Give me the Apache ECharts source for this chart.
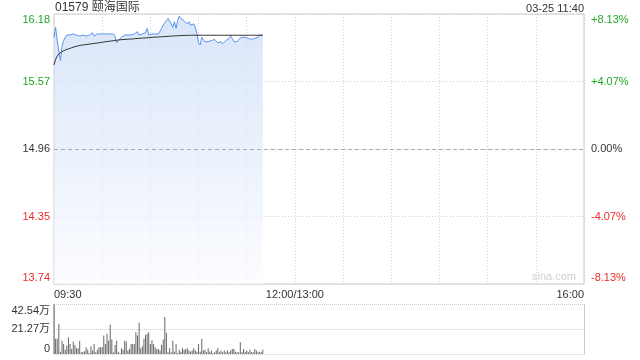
<!DOCTYPE html>
<html>
<head>
<meta charset="utf-8">
<script src="https://cdn.jsdelivr.net/npm/echarts@6/dist/echarts.min.js"></script>
<style>html,body{margin:0;padding:0;background:#fff;}#c{width:640px;height:360px;}</style>
</head>
<body>
<div id="c"></div>
<script>
const chartTitle = '01579 颐海国际';
const stamp = '03-25 11:40';
const prevClose = 14.96;
const priceTicks = ['13.74', '14.35', '14.96', '15.57', '16.18'];
const pctTicks = ['-8.13%', '-4.07%', '0.00%', '+4.07%', '+8.13%'];
const timeTicks = [0, 150, 330];
const timeLabels = ['09:30', '12:00/13:00', '16:00'];
const volTicks = ['0', '21.27万', '42.54万'];
const volMax = 42.54;

const price = [
  15.97, 16.06, 15.94, 15.84, 15.76, 15.89, 15.94, 15.97, 15.99, 15.98,
  15.99, 15.99, 16.00, 16.00, 15.99, 15.99, 15.98, 15.97, 15.99, 15.99,
  15.98, 15.97, 15.99, 16.00, 16.01, 15.98, 15.99, 16.00, 16.00, 16.00,
  16.00, 16.00, 16.00, 16.00, 16.00, 16.00, 16.00, 16.00, 15.98, 15.92,
  15.94, 15.95, 15.97, 15.97, 15.99, 15.98, 15.99, 15.99, 15.99, 16.00,
  16.00, 16.01, 16.02, 15.99, 15.98, 16.00, 15.99, 16.01, 16.05, 15.99,
  16.00, 16.00, 16.00, 16.00, 16.00, 16.00, 16.00, 16.05, 16.08, 16.09,
  16.12, 16.14, 16.14, 16.09, 16.06, 16.11, 16.05, 16.12, 16.16, 16.14,
  16.13, 16.12, 16.11, 16.09, 16.11, 16.08, 16.08, 16.09, 16.06, 16.00,
  15.92, 15.90, 15.97, 15.95, 15.93, 15.92, 15.93, 15.94, 15.94, 15.94,
  15.95, 15.96, 15.92, 15.92, 15.93, 15.91, 15.92, 15.94, 15.95, 15.96,
  15.98, 15.96, 15.93, 15.93, 15.93, 15.95, 15.96, 15.97, 15.96, 15.97,
  15.96, 15.96, 15.96, 15.95, 15.96, 15.96, 15.95, 15.97, 15.99, 15.99,
  15.99
];

const avg = [
  15.72, 15.77, 15.80, 15.82, 15.83, 15.84, 15.85, 15.855, 15.86, 15.865,
  15.87, 15.875, 15.88, 15.885, 15.89, 15.892, 15.895, 15.898, 15.90, 15.902,
  15.904, 15.906, 15.908, 15.91, 15.912, 15.914, 15.916, 15.918, 15.92, 15.922,
  15.925, 15.927, 15.929, 15.931, 15.933, 15.935, 15.937, 15.939, 15.941, 15.943,
  15.945, 15.947, 15.948, 15.949, 15.950, 15.951, 15.952, 15.953, 15.954, 15.955,
  15.957, 15.958, 15.959, 15.960, 15.961, 15.962, 15.963, 15.964, 15.965, 15.966,
  15.968, 15.969, 15.970, 15.971, 15.972, 15.972, 15.973, 15.974, 15.975, 15.976,
  15.977, 15.978, 15.979, 15.980, 15.981, 15.982, 15.983, 15.984, 15.985, 15.985,
  15.986, 15.986, 15.987, 15.987, 15.987, 15.988, 15.988, 15.988, 15.988, 15.988,
  15.988, 15.988, 15.988, 15.988, 15.988, 15.988, 15.988, 15.988, 15.988, 15.988,
  15.988, 15.988, 15.988, 15.988, 15.988, 15.988, 15.988, 15.988, 15.988, 15.988,
  15.988, 15.988, 15.988, 15.988, 15.988, 15.988, 15.988, 15.988, 15.988, 15.988,
  15.988, 15.988, 15.988, 15.988, 15.988, 15.988, 15.988, 15.988, 15.988, 15.988,
  15.988
];

const volume = [
  42.54, 12.9, 12.9, 25.8, 2.0, 11.2, 8.6, 3.7, 7.2, 14.3,
  8.6, 4.3, 10.6, 7.7, 4.9, 4.9, 11.2, 1.4, 2.0, 2.4,
  5.7, 3.7, 0.9, 6.6, 2.9, 8.6, 1.4, 3.7, 5.7, 5.7,
  5.7, 15.8, 8.6, 17.2, 11.5, 24.9, 12.3, 1.4, 7.7, 11.2,
  2.0, 0.9, 4.9, 3.7, 11.2, 10.6, 3.0, 4.3, 8.6, 8.6,
  8.6, 18.6, 15.8, 26.6, 4.9, 6.6, 12.9, 16.3, 17.2, 18.6,
  8.6, 11.7, 8.6, 5.7, 4.3,
  4.3, 2.9, 7.7, 12.3, 31.5, 18.0, 1.4, 4.9, 1.4, 11.2,
  2.0, 8.6, 0.9, 3.7, 2.0, 4.9, 3.7, 4.3, 4.9, 2.9,
  2.0, 2.9, 4.9, 2.9, 2.0, 8.6, 2.0, 12.9, 2.9, 3.7,
  1.4, 4.9, 2.0, 2.9, 0.9, 1.4, 2.9, 4.9, 1.4, 2.9,
  1.4, 2.9, 1.4, 2.9, 1.4, 2.9, 4.3, 4.3, 2.0, 1.4,
  1.4, 10.0, 1.4, 4.3, 2.0, 2.9, 1.4, 3.7, 1.4, 1.4,
  4.3, 2.9, 1.4, 2.0, 1.4, 3.7
];

const GREEN = '#23a723';
const RED = '#f02b2b';
const DARK = '#333333';
const FONT = "'Liberation Sans', Arial, 'Noto Sans CJK SC', sans-serif";
const levelColors = ['r', 'r', 'd', 'g', 'g'];
const dotted = { color: '#cfcfcf', type: [1, 2], width: 1 };

function levelLabel(list) {
  return function (v, i) {
    const idx = Math.round(v);
    const k = levelColors[idx];
    const suffix = idx === 0 ? 'B' : (idx === 4 ? 'T' : '');
    return '{' + k + suffix + '|' + list[idx] + '}';
  };
}
const levelRich = {
  r: { color: RED }, rB: { color: RED, padding: [0, 0, 12, 0] },
  d: { color: DARK },
  g: { color: GREEN }, gT: { color: GREEN, padding: [12, 0, 0, 0] }
};

const chart = echarts.init(document.getElementById('c'), null, { renderer: 'canvas' });
chart.setOption({
  animation: false,
  backgroundColor: '#fff',
  textStyle: { fontFamily: FONT },
  title: [
    { text: chartTitle, left: 55, top: 2, padding: 0, textStyle: { fontSize: 12, fontWeight: 'normal', color: DARK, fontFamily: FONT } },
    { text: stamp, right: 56, top: 3, padding: 0, textStyle: { fontSize: 11, fontWeight: 'normal', color: DARK, fontFamily: FONT } }
  ],
  graphic: [
    { type: 'text', right: 64, top: 271, style: { text: 'sina.com', fill: '#d0d0d0', fontSize: 11, fontFamily: FONT } }
  ],
  grid: [
    { left: 54, right: 56, top: 14, height: 270, show: true, borderColor: '#cccccc', borderWidth: 1, backgroundColor: 'transparent' },
    { left: 54, right: 56, top: 304, height: 50 }
  ],
  xAxis: [
    {
      type: 'value', gridIndex: 0, min: 0, max: 330, interval: 30,
      axisLine: { show: false }, axisTick: { show: false },
      splitLine: { show: true, lineStyle: dotted },
      axisLabel: {
        color: DARK, fontSize: 11, margin: 5, fontFamily: FONT,
        alignMinLabel: 'left', alignMaxLabel: 'right',
        formatter: function (v) { const i = timeTicks.indexOf(Math.round(v)); return i >= 0 ? timeLabels[i] : ''; }
      }
    },
    {
      type: 'value', gridIndex: 1, min: 0, max: 330, show: false
    }
  ],
  yAxis: [
    { type: 'value', gridIndex: 0, min: parseFloat(priceTicks[0]), max: parseFloat(priceTicks[4]), show: false },
    {
      type: 'value', gridIndex: 0, position: 'left', min: 0, max: 4, interval: 1,
      axisLine: { show: false }, axisTick: { show: false },
      splitLine: { show: true, lineStyle: dotted },
      axisLabel: { fontSize: 11, margin: 4, fontFamily: FONT, formatter: levelLabel(priceTicks), rich: levelRich }
    },
    {
      type: 'value', gridIndex: 0, position: 'right', min: 0, max: 4, interval: 1,
      axisLine: { show: false }, axisTick: { show: false }, splitLine: { show: false },
      axisLabel: { fontSize: 11, margin: 7, fontFamily: FONT, formatter: levelLabel(pctTicks), rich: levelRich }
    },
    {
      type: 'value', gridIndex: 1, position: 'left', min: 0, max: volMax, interval: volMax / 2,
      axisLine: { show: true, lineStyle: { color: '#cccccc' } }, axisTick: { show: false },
      splitLine: { show: true, lineStyle: { color: '#cccccc', type: [1, 1], width: 1 } },
      axisLabel: {
        fontSize: 11, margin: 4, color: DARK, fontFamily: FONT,
        formatter: function (v) {
          const i = Math.round(v / (volMax / 2));
          if (i === 2) return '{t|' + volTicks[2] + '}';
          if (i === 0) return '{b|' + volTicks[0] + '}';
          return volTicks[i];
        },
        rich: { t: { color: DARK, padding: [14, 0, 0, 0] }, b: { color: DARK, padding: [0, 0, 11, 0] } }
      }
    },
    {
      type: 'value', gridIndex: 1, position: 'right', min: 0, max: volMax,
      axisLine: { show: true, lineStyle: { color: '#cccccc' } }, axisTick: { show: false },
      splitLine: { show: false }, axisLabel: { show: false }
    }
  ],
  series: [
    {
      name: 'price', type: 'line', xAxisIndex: 0, yAxisIndex: 0,
      data: price.map((v, i) => [i, v]),
      showSymbol: false, symbol: 'none',
      lineStyle: { color: '#5b93ef', width: 1 },
      areaStyle: {
        origin: 'start',
        color: new echarts.graphic.LinearGradient(0, 0, 0, 1, [
          { offset: 0, color: '#c9dbf7' },
          { offset: 1, color: '#fbfcff' }
        ])
      },
      markLine: {
        silent: true, symbol: 'none', label: { show: false },
        lineStyle: { color: '#aaaaaa', type: [4, 3], width: 1 },
        data: [{ yAxis: prevClose }]
      },
      z: 2
    },
    {
      name: 'avg', type: 'line', xAxisIndex: 0, yAxisIndex: 0,
      data: avg.map((v, i) => [i, v]),
      showSymbol: false, symbol: 'none', smooth: false,
      lineStyle: { color: '#333333', width: 1 }, z: 3
    },
    {
      name: 'volume', type: 'bar', xAxisIndex: 1, yAxisIndex: 3,
      data: volume.map((v, i) => [i, v]),
      barWidth: 1, itemStyle: { color: '#666666' }
    }
  ]
});
</script>
</body>
</html>
